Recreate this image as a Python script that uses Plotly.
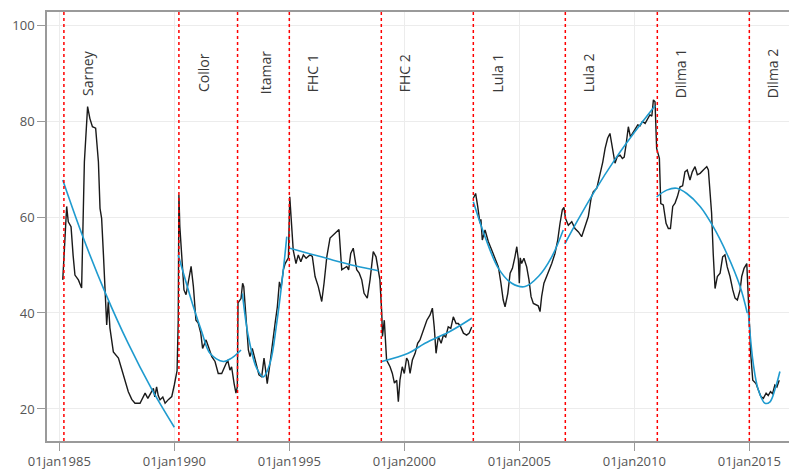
import plotly.graph_objects as go

# Presidential approval (%) by month, decimal-year dates, one block per term
sarney_t = [1985.15, 1985.25, 1985.32, 1985.39, 1985.51, 1985.60, 1985.68, 1985.83, 1985.97,
            1986.09, 1986.23, 1986.33, 1986.44, 1986.58, 1986.70, 1986.77, 1986.84, 1986.92,
            1986.99, 1987.06, 1987.13, 1987.20, 1987.35, 1987.57, 1987.70, 1987.78, 1987.90,
            1988.00, 1988.15, 1988.29, 1988.51, 1988.65, 1988.73, 1988.85, 1988.94, 1989.09,
            1989.15, 1989.23, 1989.30, 1989.38, 1989.50, 1989.60, 1989.75, 1989.89, 1990.00,
            1990.06, 1990.12]
sarney_v = [46.9, 55.0, 62.2, 59.0, 58.0, 52.0, 47.9, 46.9, 45.2,
            71.5, 83.0, 80.5, 78.8, 78.5, 71.5, 61.8, 59.7, 52.0,
            45.1, 37.5, 42.4, 36.9, 31.9, 30.6, 28.5, 27.1, 25.0,
            23.6, 22.0, 21.2, 21.2, 22.5, 23.3, 22.2, 22.9, 24.3,
            22.5, 24.6, 22.8, 21.9, 22.5, 21.2, 22.0, 22.6, 25.0,
            26.7, 28.0]

collor_t = [1990.17, 1990.20, 1990.24, 1990.32, 1990.42, 1990.51, 1990.61, 1990.73, 1990.83,
            1990.94, 1991.04, 1991.15, 1991.23, 1991.38, 1991.48, 1991.63, 1991.77, 1991.91,
            1992.06, 1992.20, 1992.32, 1992.42, 1992.49, 1992.60, 1992.68, 1992.74]
collor_v = [38.5, 64.6, 58.0, 52.5, 44.8, 43.8, 46.2, 49.7, 45.5,
            38.5, 37.9, 35.8, 32.6, 34.4, 33.0, 30.9, 29.9, 27.4,
            27.4, 28.8, 30.2, 28.1, 28.8, 25.3, 23.3, 24.6]

itamar_t = [1992.77, 1992.90, 1992.97, 1993.02, 1993.07, 1993.15, 1993.22, 1993.29, 1993.39,
            1993.48, 1993.58, 1993.68, 1993.80, 1993.90, 1993.97, 1994.04, 1994.16, 1994.26,
            1994.38, 1994.48, 1994.57, 1994.64, 1994.74, 1994.82, 1994.90, 1994.96]
itamar_v = [42.1, 43.0, 46.2, 45.5, 42.0, 36.5, 32.3, 30.9, 32.6,
            30.9, 28.8, 27.1, 26.7, 30.6, 28.1, 25.3, 29.5, 33.7,
            37.8, 41.3, 46.5, 45.1, 49.0, 50.3, 51.0, 51.5]

fhc1_t = [1995.02, 1995.10, 1995.17, 1995.29, 1995.39, 1995.50, 1995.61, 1995.73, 1995.90,
          1996.00, 1996.12, 1996.26, 1996.41, 1996.51, 1996.63, 1996.77, 1996.99, 1997.16,
          1997.28, 1997.38, 1997.50, 1997.58, 1997.67, 1997.78, 1997.93, 1998.04, 1998.15,
          1998.25, 1998.39, 1998.51, 1998.65, 1998.77, 1998.87, 1998.94]
fhc1_v = [64.2, 58.7, 53.1, 50.3, 52.1, 50.7, 52.1, 51.4, 52.1,
          51.8, 47.6, 45.5, 42.4, 46.2, 51.7, 55.6, 56.6, 57.4,
          49.0, 49.3, 49.7, 49.0, 52.4, 53.5, 49.0, 48.3, 46.9,
          44.1, 43.1, 46.9, 52.8, 51.7, 49.0, 46.9]

fhc2_t = [1999.02, 1999.05, 1999.13, 1999.23, 1999.38, 1999.48, 1999.57, 1999.67, 1999.74,
          1999.81, 1999.91, 2000.00, 2000.10, 2000.17, 2000.25, 2000.35, 2000.47, 2000.58,
          2000.68, 2000.83, 2000.98, 2001.12, 2001.22, 2001.30, 2001.38, 2001.48, 2001.60,
          2001.70, 2001.80, 2001.91, 2002.02, 2002.13, 2002.25, 2002.35, 2002.45, 2002.57,
          2002.71, 2002.82, 2002.93]
fhc2_v = [39.9, 35.1, 38.5, 30.2, 28.8, 27.4, 25.4, 26.0, 21.5,
          26.0, 28.8, 27.4, 30.6, 30.0, 27.4, 30.2, 31.6, 33.7,
          34.4, 36.5, 38.5, 39.6, 41.0, 37.1, 31.6, 35.1, 33.7,
          35.4, 35.0, 37.1, 36.8, 39.2, 37.8, 37.8, 37.1, 35.8,
          35.4, 35.8, 37.1]

lula1_t = [2003.00, 2003.10, 2003.19, 2003.29, 2003.33, 2003.39, 2003.51, 2003.65, 2003.80,
           2003.94, 2004.09, 2004.20, 2004.30, 2004.38, 2004.50, 2004.60, 2004.70, 2004.81,
           2004.89, 2004.96, 2005.00, 2005.04, 2005.10, 2005.20, 2005.32, 2005.42, 2005.51,
           2005.61, 2005.73, 2005.82, 2005.90, 2005.97, 2006.07, 2006.19, 2006.29, 2006.41,
           2006.55, 2006.67, 2006.77, 2006.87, 2006.94]
lula1_v = [63.9, 64.9, 62.2, 58.7, 59.5, 55.2, 57.3, 54.9, 53.1,
           51.4, 49.6, 46.2, 42.7, 41.3, 44.1, 48.3, 49.3, 51.7,
           53.8, 51.0, 46.2, 51.5, 50.3, 51.4, 49.6, 46.9, 43.4,
           42.0, 41.7, 41.5, 40.3, 43.4, 46.2, 47.6, 49.0, 50.3,
           52.4, 55.2, 58.7, 61.5, 62.0]

lula2_t = [2007.01, 2007.13, 2007.28, 2007.42, 2007.57, 2007.71, 2007.86, 2008.00, 2008.12,
           2008.22, 2008.37, 2008.51, 2008.63, 2008.73, 2008.84, 2008.94, 2009.01, 2009.09,
           2009.16, 2009.26, 2009.38, 2009.48, 2009.56, 2009.64, 2009.74, 2009.83, 2009.93,
           2010.03, 2010.15, 2010.25, 2010.35, 2010.47, 2010.58, 2010.68, 2010.76, 2010.83,
           2010.90]
lula2_v = [59.7, 58.3, 59.0, 57.6, 56.9, 55.9, 58.3, 60.1, 63.9,
           65.3, 66.0, 68.8, 71.5, 74.3, 76.4, 77.4, 75.4, 74.0,
           71.2, 72.6, 72.9, 72.2, 72.5, 75.0, 78.8, 76.7, 77.5,
           78.5, 79.2, 79.0, 79.9, 79.5, 80.6, 81.3, 81.0, 84.4,
           84.0]

dilma1_t = [2010.97, 2011.09, 2011.15, 2011.26, 2011.38, 2011.48, 2011.57, 2011.67, 2011.77,
            2011.87, 2011.99, 2012.10, 2012.20, 2012.30, 2012.42, 2012.52, 2012.64, 2012.74,
            2012.86, 2013.00, 2013.15, 2013.22, 2013.29, 2013.36, 2013.43, 2013.51, 2013.61,
            2013.73, 2013.84, 2013.94, 2014.04, 2014.16, 2014.28, 2014.38, 2014.48, 2014.60,
            2014.67, 2014.77, 2014.89]
dilma1_v = [74.3, 72.2, 62.8, 62.5, 58.7, 57.6, 57.6, 62.2, 62.9,
            64.2, 66.3, 66.5, 69.4, 69.8, 67.7, 69.4, 70.5, 68.8,
            69.1, 69.8, 70.5, 69.8, 64.9, 60.8, 52.4, 45.1, 47.6,
            48.3, 51.7, 52.1, 49.6, 47.6, 44.8, 43.1, 42.7, 44.8,
            47.6, 49.3, 50.3]

dilma2_t = [2014.96, 2015.00, 2015.06, 2015.15, 2015.29, 2015.39, 2015.50, 2015.61, 2015.73,
            2015.82, 2015.92, 2016.01, 2016.11, 2016.20, 2016.30]
dilma2_v = [41.3, 35.8, 31.6, 26.0, 25.3, 24.0, 22.6, 22.2, 23.3,
            22.8, 23.6, 23.2, 25.0, 24.6, 26.0]

# Quadratic trend per term
sarney_fit_t = [1985.15, 1986.0, 1987.0, 1988.0, 1989.0, 1990.0]
sarney_fit_v = [67.7, 56.2, 44.2, 33.6, 24.3, 16.2]
collor_fit_t = [1990.17, 1990.83, 1991.2, 1991.55, 1992.13, 1992.49, 1992.9]
collor_fit_v = [52.1, 41.3, 36.0, 31.6, 29.9, 30.6, 32.3]
itamar_fit_t = [1992.96, 1993.22, 1993.58, 1993.87, 1994.16, 1994.45, 1994.74, 1994.89]
itamar_fit_v = [44.1, 35.1, 28.5, 26.7, 29.5, 37.8, 49.0, 55.9]
fhc1_fit_t = [1995.03, 1996.0, 1996.91, 1997.9, 1998.87]
fhc1_fit_v = [53.5, 52.2, 51.0, 49.8, 48.8]
fhc2_fit_t = [1999.02, 2000.17, 2000.9, 2002.0, 2002.93]
fhc2_fit_v = [29.9, 31.6, 33.7, 36.2, 38.9]
lula1_fit_t = [2003.0, 2003.51, 2004.09, 2004.67, 2005.25, 2005.83, 2006.41, 2006.91]
lula1_fit_v = [63.2, 55.9, 49.3, 46.2, 45.5, 47.6, 51.7, 57.3]
lula2_fit_t = [2006.98, 2007.42, 2008.29, 2009.16, 2010.03, 2010.9]
lula2_fit_v = [54.4, 58.3, 65.5, 72.0, 77.8, 83.2]
dilma1_fit_t = [2010.97, 2011.41, 2011.84, 2012.28, 2012.86, 2013.43, 2014.02, 2014.6, 2014.91]
dilma1_fit_v = [64.2, 65.6, 66.0, 64.9, 62.2, 58.0, 52.4, 45.5, 40.0]
dilma2_fit_t = [2014.96, 2015.17, 2015.39, 2015.68, 2015.9, 2016.11, 2016.33]
dilma2_fit_v = [40.0, 29.5, 24.0, 21.2, 21.5, 24.0, 27.8]

# Term starts and label placement
term_names = ["Sarney", "Collor", "Itamar", "FHC 1", "FHC 2", "Lula 1", "Lula 2", "Dilma 1", "Dilma 2"]
term_starts = [1985.2, 1990.2, 1992.75, 1995.0, 1999.0, 2003.0, 2007.0, 2011.0, 2015.0]
label_x = [1986.2, 1991.25, 1993.95, 1996.0, 2000.0, 2004.05, 2008.0, 2012.0, 2016.0]
label_y = 90

tick_years = [1985, 1990, 1995, 2000, 2005, 2010, 2015]
tick_text = ["01jan%d" % y for y in tick_years]
y_ticks = [20, 40, 60, 80, 100]

series = [(sarney_t, sarney_v), (collor_t, collor_v), (itamar_t, itamar_v),
          (fhc1_t, fhc1_v), (fhc2_t, fhc2_v), (lula1_t, lula1_v),
          (lula2_t, lula2_v), (dilma1_t, dilma1_v), (dilma2_t, dilma2_v)]
fits = [(sarney_fit_t, sarney_fit_v), (collor_fit_t, collor_fit_v), (itamar_fit_t, itamar_fit_v),
        (fhc1_fit_t, fhc1_fit_v), (fhc2_fit_t, fhc2_fit_v), (lula1_fit_t, lula1_fit_v),
        (lula2_fit_t, lula2_fit_v), (dilma1_fit_t, dilma1_fit_v), (dilma2_fit_t, dilma2_fit_v)]
breaks_before = {"Lula 1"}

# Join the terms into one line, leaving a gap where the series breaks
bx, by = [], []
for name, (t, v) in zip(term_names, series):
    if name in breaks_before and bx:
        bx.append(None)
        by.append(None)
    bx.extend(t)
    by.extend(v)

fig = go.Figure()
fig.add_trace(go.Scatter(x=bx, y=by, mode="lines",
                         line=dict(color="#1a1a1a", width=1.4),
                         showlegend=False, hoverinfo="skip"))
for t, v in fits:
    fig.add_trace(go.Scatter(x=t, y=v, mode="lines",
                             line=dict(color="#1f9bcf", width=1.6, shape="spline", smoothing=1.0),
                             showlegend=False, hoverinfo="skip"))

for s in term_starts:
    fig.add_shape(type="line", xref="x", yref="paper", x0=s, x1=s, y0=0, y1=1,
                  line=dict(color="#ff0000", width=1.5, dash="dot"))

for name, lx in zip(term_names, label_x):
    fig.add_annotation(x=lx, y=label_y, text=name, textangle=-90, showarrow=False,
                       font=dict(family="Open Sans", size=14, color="#3a3a3a"),
                       xanchor="center", yanchor="middle")

axis_grey = "#9a9a9a"
fig.update_xaxes(range=[1984.465, 2016.725], tickmode="array", tickvals=tick_years,
                 ticktext=tick_text, ticks="outside", ticklen=8, tickcolor=axis_grey,
                 tickwidth=1.3, showline=True, linecolor=axis_grey, linewidth=1.5,
                 mirror=True, showgrid=True, gridcolor="#ececec", gridwidth=1,
                 zeroline=False, tickfont=dict(family="Open Sans", size=13, color="#555555"))
fig.update_yaxes(range=[13.33, 102.71], tickmode="array", tickvals=y_ticks,
                 ticks="outside", ticklen=8, tickcolor=axis_grey, tickwidth=1.3,
                 showline=True, linecolor=axis_grey, linewidth=1.5,
                 showgrid=True, gridcolor="#ececec", gridwidth=1, zeroline=False,
                 tickfont=dict(family="Open Sans", size=13, color="#555555"))

fig.update_layout(width=789, height=473, autosize=False,
                  margin=dict(l=47, r=0, t=12, b=32, pad=0),
                  plot_bgcolor="white", paper_bgcolor="white")

fig.write_html("out.html")
